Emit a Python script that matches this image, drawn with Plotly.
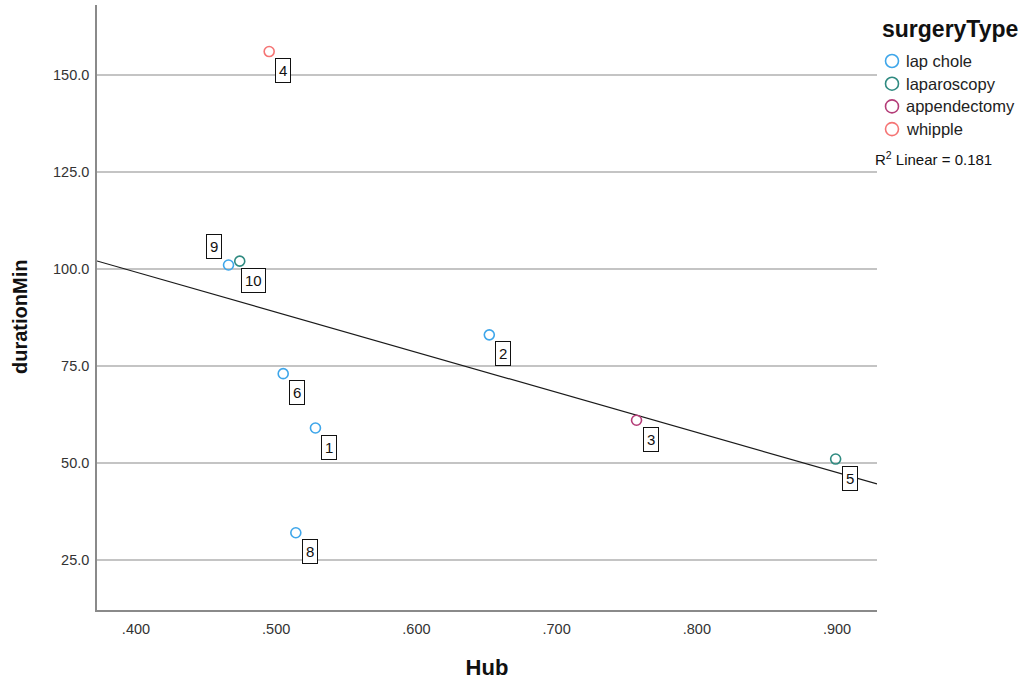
import numpy as np
import plotly.graph_objects as go

# Case data: hub score, duration in minutes, surgery type, case id
case_ids = [1, 2, 3, 4, 5, 6, 8, 9, 10]
hub = [0.528, 0.652, 0.757, 0.495, 0.899, 0.505, 0.514, 0.466, 0.474]
duration = [59, 83, 61, 156, 51, 73, 32, 101, 102]
surgery = ["lap chole", "lap chole", "appendectomy", "whipple", "laparoscopy",
           "lap chole", "lap chole", "lap chole", "laparoscopy"]

type_order = ["lap chole", "laparoscopy", "appendectomy", "whipple"]
type_colors = {
    "lap chole": "#3ea6ea",
    "laparoscopy": "#2f8a80",
    "appendectomy": "#b43d78",
    "whipple": "#f57474",
}

x_ticks = [0.4, 0.5, 0.6, 0.7, 0.8, 0.9]
x_tick_text = [".400", ".500", ".600", ".700", ".800", ".900"]
y_ticks = [25, 50, 75, 100, 125, 150]
y_tick_text = ["25.0", "50.0", "75.0", "100.0", "125.0", "150.0"]

x_range = [0.3722, 0.9285]
y_range = [12.1, 168.0]

FONT = "Liberation Sans, Arial, sans-serif"
W, H = 1027, 683
M_L, M_R, M_T, M_B = 97, 150, 5, 73
PLOT_W = W - M_L - M_R
PLOT_H = H - M_T - M_B


def px_to_paper(px, py):
    """Convert page pixel position to paper coordinates."""
    return (px - M_L) / PLOT_W, (H - M_B - py) / PLOT_H


fig = go.Figure()

# Linear fit line across the full x range
xa = np.array(hub)
ya = np.array(duration, dtype=float)
slope, intercept = np.polyfit(xa, ya, 1)
r2 = np.corrcoef(xa, ya)[0, 1] ** 2
fx = np.array(x_range)
fig.add_trace(go.Scatter(
    x=fx, y=intercept + slope * fx, mode="lines",
    line=dict(color="#1a1a1a", width=1.2), showlegend=False, hoverinfo="skip",
))

# Scatter points, one trace per surgery type
for t in type_order:
    idx = [i for i, s in enumerate(surgery) if s == t]
    fig.add_trace(go.Scatter(
        x=[hub[i] for i in idx], y=[duration[i] for i in idx],
        mode="markers", name=t, showlegend=False,
        marker=dict(symbol="circle-open", size=10, color=type_colors[t],
                    line=dict(width=1.6, color=type_colors[t])),
    ))

# Case id labels in boxes next to each point
label_offsets = {9: (-15, 19)}
for cid, xv, yv in zip(case_ids, hub, duration):
    dx, dy = label_offsets.get(cid, (14, -19))
    fig.add_annotation(
        x=xv, y=yv, text=str(cid), showarrow=False,
        xshift=dx, yshift=dy,
        font=dict(family=FONT, size=15, color="#111111"),
        bgcolor="white", bordercolor="#111111", borderwidth=1, borderpad=3,
    )

# Legend block on the right: title, circle swatches and labels
tx, ty = px_to_paper(880, 29)
fig.add_annotation(
    xref="paper", yref="paper", x=tx, y=ty, xanchor="left", yanchor="middle",
    showarrow=False, text="<b>surgeryType</b>",
    font=dict(family=FONT, size=23, color="#111111"),
)
for k, t in enumerate(type_order):
    cy = 61 + k * 22.7
    x0, y0 = px_to_paper(892 - 6.5, cy + 6.5)
    x1, y1 = px_to_paper(892 + 6.5, cy - 6.5)
    fig.add_shape(
        type="circle", xref="paper", yref="paper",
        x0=x0, y0=y0, x1=x1, y1=y1,
        line=dict(color=type_colors[t], width=1.6), fillcolor="rgba(0,0,0,0)",
    )
    lx, ly = px_to_paper(904, cy)
    fig.add_annotation(
        xref="paper", yref="paper", x=lx, y=ly, xanchor="left", yanchor="middle",
        showarrow=False, text=t,
        font=dict(family=FONT, size=16.5, color="#222222"),
    )

# R-squared label
rx, ry = px_to_paper(873, 158)
fig.add_annotation(
    xref="paper", yref="paper", x=rx, y=ry, xanchor="left", yanchor="middle",
    showarrow=False,
    text=f"R<sup>2</sup> Linear = {r2:.3f}",
    font=dict(family=FONT, size=15, color="#111111"),
)

# Vertical axis title
vx, vy = px_to_paper(20, 317)
fig.add_annotation(
    xref="paper", yref="paper", x=vx, y=vy, xanchor="center", yanchor="middle",
    showarrow=False, textangle=-90,
    text="<b>durationMin</b>",
    font=dict(family=FONT, size=20, color="#111111"),
)

fig.update_layout(
    width=W, height=H,
    margin=dict(l=M_L, r=M_R, t=M_T, b=M_B),
    paper_bgcolor="white", plot_bgcolor="white",
    font=dict(family=FONT, color="#222222"),
    showlegend=False,
    xaxis=dict(
        range=x_range, tickvals=x_ticks, ticktext=x_tick_text,
        showgrid=False, zeroline=False,
        showline=True, linecolor="#8a8a8a", linewidth=1.5,
        ticks="", tickfont=dict(size=14.5, color="#333333"), ticklabelstandoff=5,
        title=dict(text="<b>Hub</b>", font=dict(size=22, color="#111111"), standoff=23),
    ),
    yaxis=dict(
        range=y_range, tickvals=y_ticks, ticktext=y_tick_text,
        showgrid=True, gridcolor="#c4c4c4", gridwidth=1.8, zeroline=False,
        showline=True, linecolor="#8a8a8a", linewidth=1.5,
        ticks="", tickfont=dict(size=14.5, color="#333333"), ticklabelstandoff=3,
    ),
)

fig.write_html("out.html")
